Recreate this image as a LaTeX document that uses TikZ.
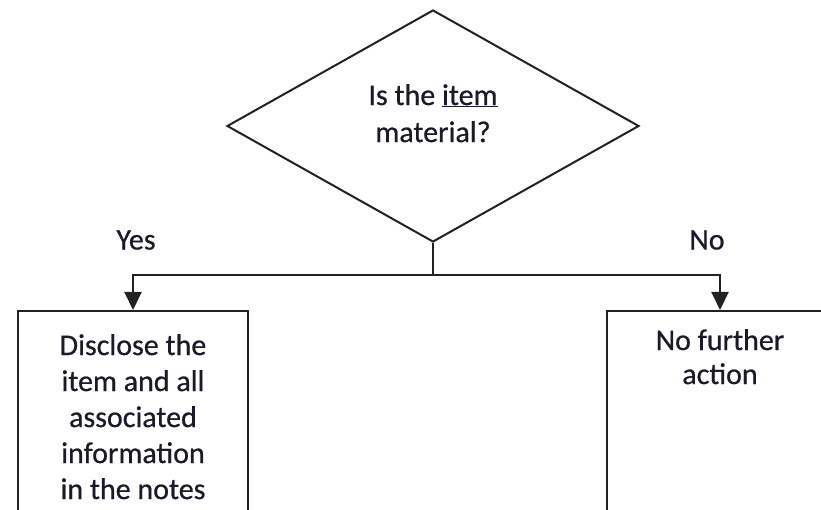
\documentclass[tikz,border=0pt]{standalone}
\usepackage{fontspec}
\setmainfont{Carlito}[FakeBold=0.6]
\usetikzlibrary{shapes.geometric,arrows.meta}
\definecolor{ink}{HTML}{1A1A2A}
\definecolor{edge}{HTML}{222222}
\begin{document}
\begin{tikzpicture}[x=1pt,y=1pt,
  txt/.style={text=ink,font=\fontsize{30}{36}\selectfont,align=center,inner sep=0pt},
  dia/.style={draw=edge,line width=2pt,diamond,inner sep=0pt,minimum width=412pt,minimum height=232pt},
  box/.style={draw=edge,line width=2pt,rectangle,inner sep=0pt,anchor=north},
  conn/.style={draw=edge,line width=2pt},
  arr/.style={conn,-{Triangle[width=17pt,length=18pt]}}]
\clip (0,0) rectangle (821,-510);
\fill[white] (0,0) rectangle (821,-510);
\node[dia] (q) at (433,-126) {};
\node[txt,font=\fontsize{30}{37}\selectfont,anchor=north] (qt) at (433,-84) {Is the \underline{item}\\material?};
\node[box,minimum width=230pt,minimum height=240pt] (yes) at (133,-310) {};
\node[box,minimum width=226pt,minimum height=240pt] (no) at (720,-310) {};
\node[txt,anchor=north] (yt) at (133,-334) {Disclose the\\item and all\\associated\\information\\in the notes};
\node[txt,anchor=north,font=\fontsize{30}{34}\selectfont] (nt) at (720,-329) {No further\\action};
\node[txt] (ylab) at (136,-240) {Yes};
\node[txt] (nlab) at (707,-240) {No};
\coordinate (j) at (433,-275);
\draw[conn] (q.south) -- (j);
\draw[arr] (j) -| (yes.north);
\draw[arr] (j) -| (no.north);
\end{tikzpicture}
\end{document}
